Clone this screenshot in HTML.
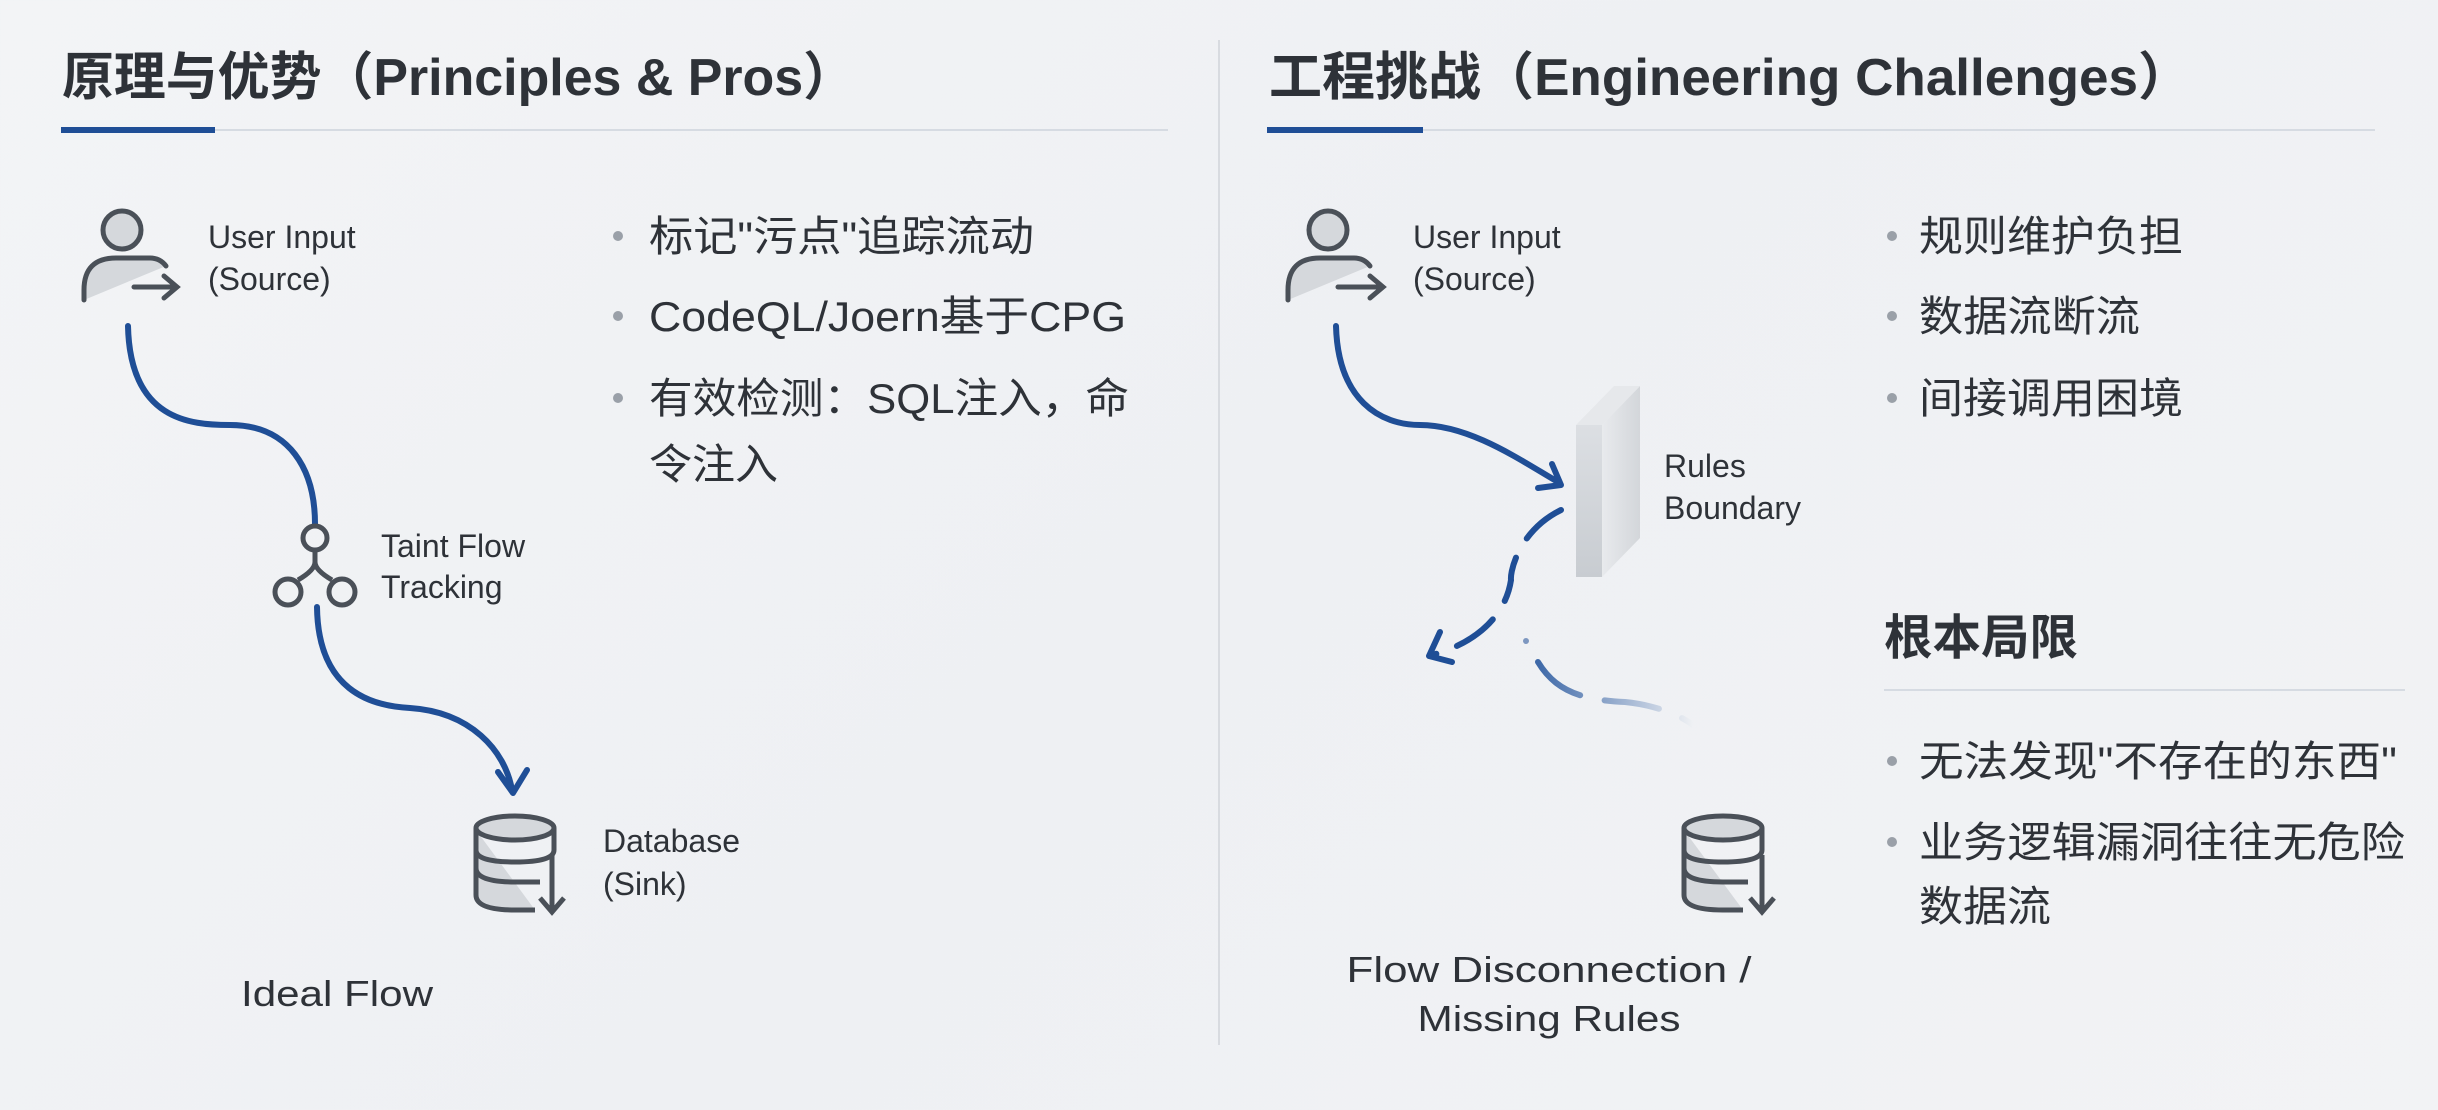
<!DOCTYPE html>
<html><head><meta charset="utf-8"><style>
html,body{margin:0;padding:0;width:2438px;height:1110px;overflow:hidden;}
body{background:linear-gradient(135deg,#f3f4f6 0%,#eef0f3 50%,#f2f3f5 100%);}
svg text{font-family:"Liberation Sans","Noto Sans CJK SC",sans-serif;fill:#2e3238;}
</style></head><body>
<svg width="2438" height="1110" viewBox="0 0 2438 1110" xmlns="http://www.w3.org/2000/svg">
<defs>
<linearGradient id="fade" x1="0" y1="0" x2="1" y2="0">
<stop offset="0" stop-color="#2b5aa0" stop-opacity="0.9"/><stop offset="1" stop-color="#2b5aa0" stop-opacity="0"/>
</linearGradient>
<linearGradient id="wallF" x1="0" y1="0" x2="0" y2="1"><stop offset="0" stop-color="#dcdfe3"/><stop offset="1" stop-color="#c8ccd1"/></linearGradient>
<linearGradient id="wallS" x1="0" y1="0" x2="1" y2="0"><stop offset="0" stop-color="#e8eaed"/><stop offset="1" stop-color="#d3d6da"/></linearGradient>
</defs>
<line x1="1219" y1="40" x2="1219" y2="1045" stroke="#d8dbe0" stroke-width="2"/>

<text x="62" y="95" font-size="52" font-weight="bold" textLength="793" lengthAdjust="spacingAndGlyphs">原理与优势（Principles &amp; Pros）</text>
<line x1="61" y1="130" x2="1168" y2="130" stroke="#d6dbe2" stroke-width="2"/>
<line x1="61" y1="130" x2="215" y2="130" stroke="#1f4e96" stroke-width="6"/>

<g fill="none" stroke="#4a5058" stroke-width="5" stroke-linecap="round">
<circle cx="122" cy="230" r="19" fill="#d5d8dc"/>
<path d="M84 300 V290 Q84 258 116 258 H150 Q160 258 166 266" fill="#d5d8dc"/>
<path d="M134 287 H176 M164 276 L177 287 L164 298"/>
</g>
<text x="208" y="248" font-size="32">User Input</text>
<text x="208" y="290" font-size="32">(Source)</text>

<path d="M128 326 C130 420 190 425 230 425 C290 425 315 470 315 524" fill="none" stroke="#1f4e96" stroke-width="6" stroke-linecap="round"/>
<g fill="none" stroke="#4a5058" stroke-width="5">
<circle cx="315" cy="538" r="12"/>
<circle cx="288" cy="592" r="13"/><circle cx="342" cy="592" r="13"/>
<path d="M315 550 V562 Q315 570 298 580 M315 562 Q315 570 332 580"/>
</g>
<text x="381" y="557" font-size="32">Taint Flow</text>
<text x="381" y="598" font-size="32">Tracking</text>
<path d="M317 607 C318 690 370 706 410 708 C470 712 505 750 512 790" fill="none" stroke="#1f4e96" stroke-width="6" stroke-linecap="round"/>
<path d="M498 772 L513 793 L527 770" fill="none" stroke="#1f4e96" stroke-width="6" stroke-linecap="round" stroke-linejoin="round"/>
<g fill="none" stroke="#4a5058" stroke-width="5">
<path d="M476 830 V895 Q476 910 515 910 H535" fill="#d5d8dc"/>
<ellipse cx="515" cy="828" rx="39" ry="12" fill="#d5d8dc"/>
<path d="M476 828 V850 Q476 862 515 862 Q554 862 554 850 V828"/>
<path d="M476 868 Q476 882 515 882 H540"/>
<path d="M552 855 V910 M540 898 L552 912 L564 898"/>
</g>
<text x="603" y="852" font-size="32">Database</text>
<text x="603" y="895" font-size="32">(Sink)</text>
<text x="241" y="1006" font-size="36" textLength="192" lengthAdjust="spacingAndGlyphs">Ideal Flow</text>

<g font-size="42">
<circle cx="618" cy="236" r="5" fill="#9aa0a8"/>
<text x="649" y="251" textLength="385" lengthAdjust="spacingAndGlyphs">标记"污点"追踪流动</text>
<circle cx="618" cy="316" r="5" fill="#9aa0a8"/>
<text x="649" y="331" textLength="477" lengthAdjust="spacingAndGlyphs">CodeQL/Joern基于CPG</text>
<circle cx="618" cy="398" r="5" fill="#9aa0a8"/>
<text x="649" y="413" textLength="480" lengthAdjust="spacingAndGlyphs">有效检测：SQL注入，命</text>
<text x="649" y="479" textLength="129" lengthAdjust="spacingAndGlyphs">令注入</text>
</g>

<text x="1269" y="95" font-size="52" font-weight="bold" textLength="922" lengthAdjust="spacingAndGlyphs">工程挑战（Engineering Challenges）</text>
<line x1="1267" y1="130" x2="2375" y2="130" stroke="#d6dbe2" stroke-width="2"/>
<line x1="1267" y1="130" x2="1423" y2="130" stroke="#1f4e96" stroke-width="6"/>

<g fill="none" stroke="#4a5058" stroke-width="5" stroke-linecap="round">
<circle cx="1328" cy="230" r="19" fill="#d5d8dc"/>
<path d="M1288 300 V290 Q1288 258 1320 258 H1354 Q1364 258 1370 266" fill="#d5d8dc"/>
<path d="M1338 287 H1382 M1370 276 L1383 287 L1370 298"/>
</g>
<text x="1413" y="248" font-size="32">User Input</text>
<text x="1413" y="290" font-size="32">(Source)</text>
<path d="M1336 326 C1338 400 1380 425 1420 425 C1470 425 1520 460 1558 482" fill="none" stroke="#1f4e96" stroke-width="6" stroke-linecap="round"/>
<path d="M1552 464 L1561 485 L1538 488" fill="none" stroke="#1f4e96" stroke-width="6" stroke-linecap="round" stroke-linejoin="round"/>
<polygon points="1602,425 1640,386 1640,538 1602,577" fill="url(#wallS)"/>
<polygon points="1576,425 1602,425 1640,386 1614,386" fill="#e6e8eb"/>
<rect x="1576" y="425" width="26" height="152" fill="url(#wallF)"/>
<text x="1664" y="477" font-size="32">Rules</text>
<text x="1664" y="519" font-size="32">Boundary</text>
<path d="M1561 510 C1520 530 1510 570 1511 580 C1505 620 1470 645 1432 655" fill="none" stroke="#1f4e96" stroke-width="6" stroke-linecap="round" stroke-dasharray="45 22"/>
<path d="M1440 632 L1429 656 L1452 662" fill="none" stroke="#1f4e96" stroke-width="6" stroke-linecap="round" stroke-linejoin="round"/>
<path d="M1538 662 C1555 690 1580 700 1625 702 C1655 705 1680 715 1693 725" fill="none" stroke="url(#fade)" stroke-width="6" stroke-linecap="round" stroke-dasharray="55 25"/>
<circle cx="1526" cy="641" r="3" fill="#7d97c0"/>
<g fill="none" stroke="#4a5058" stroke-width="5">
<path d="M1684 830 V895 Q1684 910 1723 910 H1743" fill="#d5d8dc"/>
<ellipse cx="1723" cy="828" rx="39" ry="12" fill="#d5d8dc"/>
<path d="M1684 828 V850 Q1684 862 1723 862 Q1762 862 1762 850 V828"/>
<path d="M1684 868 Q1684 882 1723 882 H1748"/>
<path d="M1762 855 V910 M1750 898 L1762 912 L1774 898"/>
</g>
<text x="1549" y="982" font-size="36" text-anchor="middle" textLength="405" lengthAdjust="spacingAndGlyphs">Flow Disconnection /</text>
<text x="1549" y="1031" font-size="36" text-anchor="middle" textLength="263" lengthAdjust="spacingAndGlyphs">Missing Rules</text>

<g font-size="42">
<circle cx="1892" cy="236" r="5" fill="#9aa0a8"/>
<text x="1919" y="251" textLength="264" lengthAdjust="spacingAndGlyphs">规则维护负担</text>
<circle cx="1892" cy="316" r="5" fill="#9aa0a8"/>
<text x="1919" y="331" textLength="221" lengthAdjust="spacingAndGlyphs">数据流断流</text>
<circle cx="1892" cy="398" r="5" fill="#9aa0a8"/>
<text x="1919" y="413" textLength="264" lengthAdjust="spacingAndGlyphs">间接调用困境</text>
</g>
<text x="1884" y="654" font-size="48" font-weight="bold" textLength="194" lengthAdjust="spacingAndGlyphs">根本局限</text>
<line x1="1884" y1="690" x2="2405" y2="690" stroke="#d6dbe2" stroke-width="2"/>
<g font-size="42">
<circle cx="1892" cy="761" r="5" fill="#9aa0a8"/>
<text x="1919" y="776" textLength="478" lengthAdjust="spacingAndGlyphs">无法发现"不存在的东西"</text>
<circle cx="1892" cy="842" r="5" fill="#9aa0a8"/>
<text x="1919" y="857" textLength="486" lengthAdjust="spacingAndGlyphs">业务逻辑漏洞往往无危险</text>
<text x="1919" y="921" textLength="132" lengthAdjust="spacingAndGlyphs">数据流</text>
</g>
</svg>
</body></html>
